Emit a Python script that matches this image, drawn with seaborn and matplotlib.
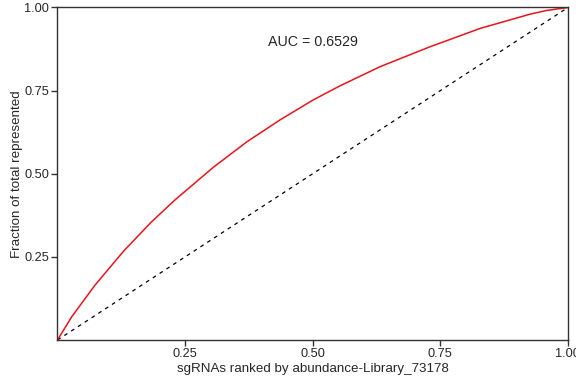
import matplotlib
matplotlib.use("Agg")
import matplotlib.pyplot as plt
import seaborn as sns
import pandas as pd

# cumulative fraction curve
frac_ranked = [0, 0.028, 0.0735, 0.130, 0.184, 0.230, 0.305, 0.371, 0.436,
               0.501, 0.553, 0.632, 0.730, 0.828, 0.926, 0.958, 1.0]
frac_total = [0, 0.070, 0.165, 0.268, 0.355, 0.421, 0.519, 0.596, 0.662,
              0.722, 0.764, 0.822, 0.882, 0.937, 0.980, 0.991, 1.0]
diag = [0, 1]
tick_vals = [0.25, 0.50, 0.75, 1.00]
tick_labels = ["0.25", "0.50", "0.75", "1.00"]
auc_label = "AUC = 0.6529"

sns.set_style("white")
plt.rcParams["font.family"] = ["Liberation Sans", "DejaVu Sans"]

df = pd.DataFrame({"x": frac_ranked, "y": frac_total})

fig = plt.figure(figsize=(5.76, 3.84), dpi=100)
ax = fig.add_axes([0.0998, 0.1146, 0.8862, 0.8659])

sns.lineplot(x=diag, y=diag, ax=ax, color="black", linewidth=0.9,
             linestyle=(0, (3, 3.5)))
sns.lineplot(data=df, x="x", y="y", ax=ax, sort=False, color="#e8141c",
             linewidth=1.1)

ax.text(0.5, 0.895, auc_label, ha="center", va="center", fontsize=10.3)

ax.set_xlim(0, 1)
ax.set_ylim(0, 1)
ax.set_xticks(tick_vals)
ax.set_xticklabels(tick_labels, fontsize=9.2)
ax.set_yticks(tick_vals)
ax.set_yticklabels(tick_labels, fontsize=9.2)
ax.tick_params(axis="both", direction="out", length=4, width=1,
               color="#333333", pad=2, bottom=True, left=True)
for s in ax.spines.values():
    s.set_color("#333333")
    s.set_linewidth(1)

ax.set_xlabel("sgRNAs ranked by abundance-Library_73178", fontsize=9.6, labelpad=2)
ax.set_ylabel("Fraction of total represented", fontsize=9.6, labelpad=1)

fig.savefig("out.png", dpi=100)
